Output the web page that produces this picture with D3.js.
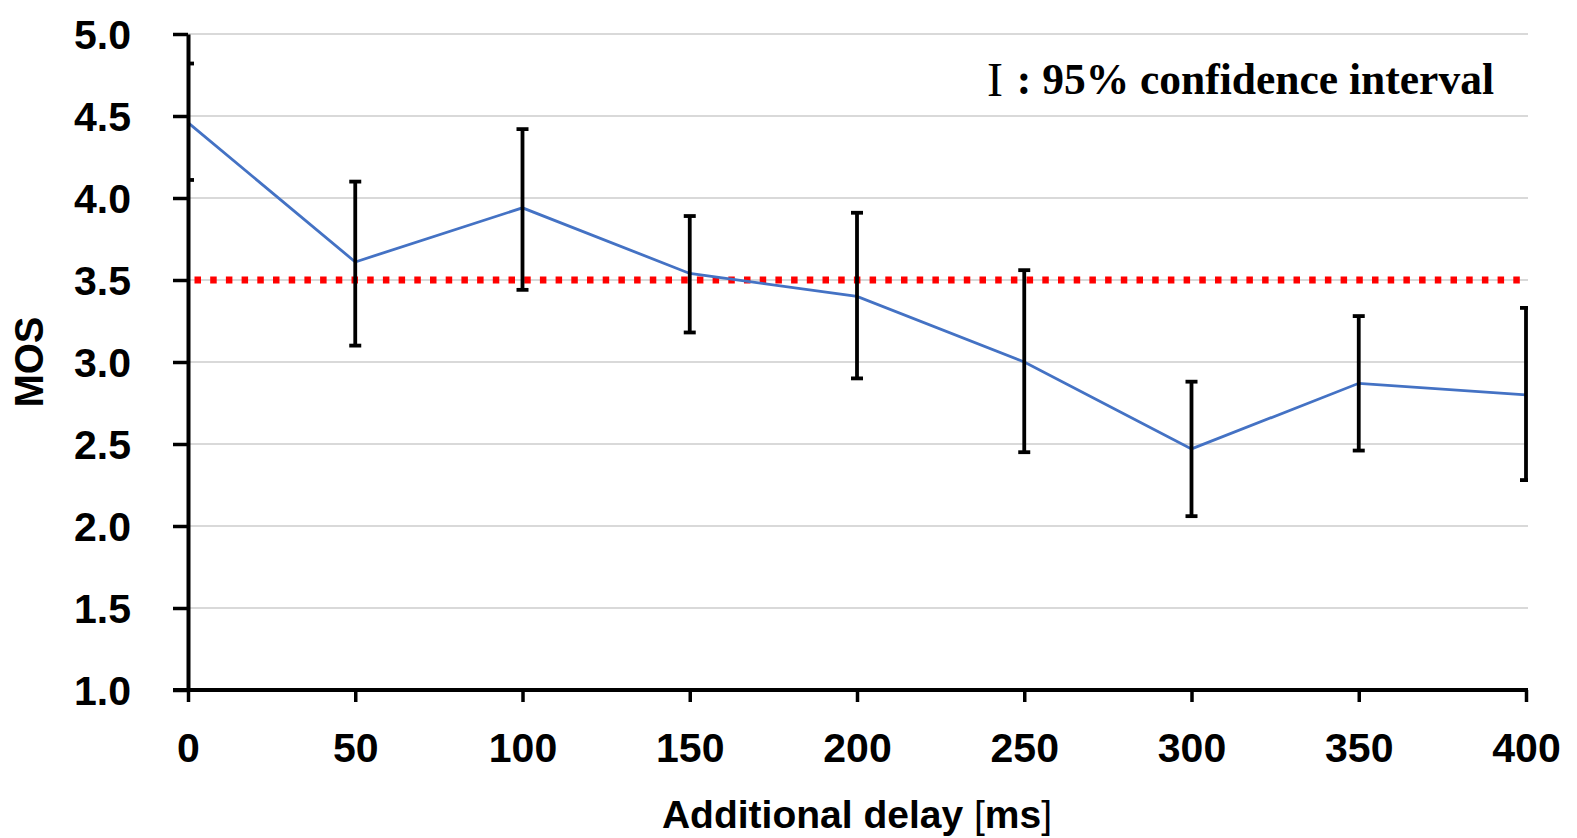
<!DOCTYPE html>
<html>
<head>
<meta charset="utf-8">
<script src="https://cdn.jsdelivr.net/npm/d3@7"></script>
<style>
  html, body { margin: 0; padding: 0; background: #ffffff; }
  svg { display: block; }
</style>
</head>
<body>
<svg id="chart" width="1577" height="838"></svg>
<script>
// ---- data ----
const delays = [0, 50, 100, 150, 200, 250, 300, 350, 400];
const mos    = [4.46, 3.61, 3.94, 3.54, 3.40, 3.00, 2.47, 2.87, 2.80];
const ciLow  = [4.11, 3.10, 3.44, 3.18, 2.90, 2.45, 2.06, 2.46, 2.28];
const ciHigh = [4.82, 4.10, 4.42, 3.89, 3.91, 3.56, 2.88, 3.28, 3.33];
const threshold = 3.5;
const xTicks = [0, 50, 100, 150, 200, 250, 300, 350, 400];
const yTicks = [1.0, 1.5, 2.0, 2.5, 3.0, 3.5, 4.0, 4.5, 5.0];
const xTitle = "Additional delay ";
const yTitle = "MOS";
const legendMark = "I";
const legendText = ": 95% confidence interval";

// ---- layout ----
const svg = d3.select("#chart");
const pLeft = 188, pRight = 1526, pTop = 34, pBottom = 690;
const x = d3.scaleLinear().domain([0, 400]).range([pLeft, pRight]);
const y = d3.scaleLinear().domain([1, 5]).range([pBottom, pTop]);
const numFont = "'Liberation Sans', Arial, sans-serif";
const serifFont = "'Liberation Serif', 'Times New Roman', serif";

// gridlines
svg.append("g")
  .selectAll("line")
  .data(yTicks.filter(d => d > 1))
  .join("line")
  .attr("x1", pLeft).attr("x2", pRight + 2)
  .attr("y1", d => y(d)).attr("y2", d => y(d))
  .attr("stroke", "#d9d9d9").attr("stroke-width", 2);

// clip for error bars
svg.append("clipPath").attr("id", "plotclip")
  .append("rect").attr("x", pLeft - 1).attr("y", 0)
  .attr("width", pRight - pLeft + 3).attr("height", 838);

// threshold dotted red line
svg.append("line")
  .attr("x1", x(0)).attr("x2", x(400))
  .attr("y1", y(threshold)).attr("y2", y(threshold))
  .attr("stroke", "#ff0000").attr("stroke-width", 7)
  .attr("stroke-dasharray", "6.5 9.2")
  .attr("stroke-dashoffset", 9.2);

// MOS line
const line = d3.line().x((d, i) => x(delays[i])).y(d => y(d));
svg.append("path")
  .datum(mos)
  .attr("d", line)
  .attr("fill", "none")
  .attr("stroke", "#4472c4")
  .attr("stroke-width", 2.8);

// error bars
const eb = svg.append("g").attr("clip-path", "url(#plotclip)");
const capW = 6;
delays.forEach((d, i) => {
  eb.append("line")
    .attr("x1", x(d)).attr("x2", x(d))
    .attr("y1", y(ciLow[i])).attr("y2", y(ciHigh[i]))
    .attr("stroke", "#000").attr("stroke-width", 3.8);
  [ciLow[i], ciHigh[i]].forEach(v => {
    eb.append("line")
      .attr("x1", x(d) - capW).attr("x2", x(d) + capW)
      .attr("y1", y(v)).attr("y2", y(v))
      .attr("stroke", "#000").attr("stroke-width", 3.8);
  });
});

// axes
const yAxis = svg.append("g")
  .attr("transform", `translate(${pLeft},0)`)
  .call(d3.axisLeft(y).tickValues(yTicks).tickSize(15).tickSizeOuter(0).tickFormat(d3.format(".1f")));
yAxis.select(".domain").attr("stroke", "#000").attr("stroke-width", 4);
yAxis.selectAll(".tick line").attr("stroke", "#000").attr("stroke-width", 3.5);
yAxis.selectAll(".tick text")
  .attr("x", -57).attr("dy", "0.36em")
  .attr("fill", "#000")
  .style("font-family", numFont).style("font-weight", "bold").style("font-size", "41px");

const xAxis = svg.append("g")
  .attr("transform", `translate(0,${pBottom})`)
  .call(d3.axisBottom(x).tickValues(xTicks).tickSize(12).tickSizeOuter(0).tickFormat(d3.format("d")));
xAxis.select(".domain").attr("stroke", "#000").attr("stroke-width", 4)
  .attr("d", `M${pLeft - 15},0H${pRight + 2}`);
xAxis.selectAll(".tick text")
  .attr("y", 72).attr("dy", 0)
  .attr("fill", "#000")
  .style("font-family", numFont).style("font-weight", "bold").style("font-size", "41px");
xAxis.selectAll(".tick line").attr("stroke", "#000").attr("stroke-width", 3.5);

// axis titles
const xt = svg.append("text")
  .attr("x", (pLeft + pRight) / 2).attr("y", 828)
  .attr("text-anchor", "middle")
  .attr("fill", "#000")
  .style("font-family", numFont).style("font-weight", "bold").style("font-size", "39px");
xt.append("tspan").text(xTitle);
xt.append("tspan").style("font-weight", "normal").text("[");
xt.append("tspan").text("ms");
xt.append("tspan").style("font-weight", "normal").text("]");

svg.append("text")
  .attr("transform", `translate(43,${(pTop + pBottom) / 2}) rotate(-90)`)
  .attr("text-anchor", "middle")
  .attr("fill", "#000")
  .style("font-family", numFont).style("font-weight", "bold").style("font-size", "40px")
  .text(yTitle);

// legend note
svg.append("text")
  .attr("x", 987).attr("y", 96)
  .attr("fill", "#000")
  .style("font-family", serifFont)
  .style("font-size", "48px")
  .text(legendMark);
svg.append("text")
  .attr("x", 1494).attr("y", 94)
  .attr("text-anchor", "end")
  .attr("fill", "#000")
  .style("font-family", serifFont)
  .style("font-weight", "bold")
  .style("font-size", "43.5px")
  .text(legendText);
</script>
</body>
</html>
